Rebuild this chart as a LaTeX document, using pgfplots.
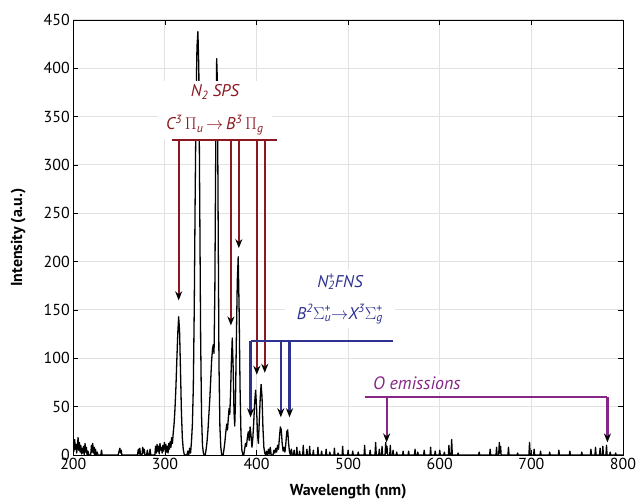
\documentclass[border=0pt]{standalone}
\usepackage{fontspec}
\setmainfont{PT Sans}
\usepackage{pgfplots}
\pgfplotsset{compat=1.18}
\usetikzlibrary{arrows.meta}
\definecolor{sps}{RGB}{139,24,32}
\definecolor{fns}{RGB}{46,49,146}
\definecolor{oem}{RGB}{134,38,134}
\definecolor{gridc}{RGB}{226,226,226}
\tikzset{ann/.style={line width=2.2bp, -{Stealth[black,length=9bp,width=7bp]}}}
\begin{document}
\begin{tikzpicture}
\begin{axis}[scale only axis, width=549.7bp, height=435bp,
  xmin=200, xmax=800, ymin=0, ymax=450,
  xtick={200,300,...,800}, ytick={0,50,...,450},
  tick align=inside, major tick length=5bp,
  grid=major, major grid style={gridc, line width=1bp},
  axis line style={black, line width=0.9bp},
  tick style={black, line width=0.8bp},
  /pgf/number format/assume math mode=true,
  tick label style={font=\fontsize{16}{18}\selectfont},
  label style={font=\fontsize{16}{18}\selectfont\bfseries},
  xlabel={Wavelength (nm)}, ylabel={Intensity (a.u.)},
  xlabel style={at={(axis description cs:0.5,-0.083)}, anchor=center},
  ylabel style={at={(axis description cs:-0.1,0.5)}, anchor=center},
  clip=true]
\addplot[black, line width=1.3bp, line join=round] coordinates {
(200,14)(200.8,4)(201.5,16)(202.2,6)(203,11)(203.7,2)(204.5,9)(205.2,18)(206,5)(206.7,13)
(207.4,3)(208.2,10)(209,1)(209.8,7)(210.5,2)(211.2,9)(212,0)(212.8,12)(213.5,3)(214.3,8)
(215,0)(216,4)(217,0)(219,0)(219.8,10)(220.5,3)(221.2,12)(222,2)(222.8,8)(223.5,-4)
(224.3,6)(225,0)(226,3)(227,0)(230,0)(230.8,5)(231.5,0)
(249,0)(250,4)(250.8,7)(251.6,2)(252.3,5)(253,0)
(270,0)(271,6)(271.8,1)(272.6,7)(273.4,0)(275,0)(275.8,8)(276.6,2)(277.4,6)(278.2,0)
(280,0)(280.8,5)(281.6,0)(283,0)(283.8,6)(284.6,0)
(289,0)(289.8,9)(290.6,2)(291.4,11)(292.2,4)(293,9)(293.8,1)(294.6,12)(295.4,5)(296.2,8)
(297,2)(297.8,10)(298.6,4)(299.4,13)(300.2,6)(301,11)(301.8,3)(302.6,9)(303.4,2)(304.2,12)
(305,6)(305.8,14)(306.6,8)(307.4,18)(308.2,12)(309,22)(310,32)(311,48)(312,70)(313,98)
(314,125)(315,143)(316,128)(317,88)(318,45)(319,18)(320,6)(321,1)(322,0)(324,0)
(325,4)(326,0)(327,7)(328,2)(329,14)(330,32)(331,70)(332,150)(333,265)(334,365)
(335,422)(336,438)(337,400)(338,262)(339,120)(340,40)(341,10)(342,2)(343,0)(344,0)
(345,6)(346,14)(347,26)(348,42)(349,58)(350,78)(351,98)(352,110)(352.8,114)(353.6,105)
(354.5,170)(355.5,320)(356.5,410)(357.3,385)(358,260)(359,95)(360,30)(361,8)(362,0)(363.5,0)
(364.5,6)(365.5,14)(366.5,24)(367.5,32)(368.3,26)(369.2,38)(370,48)(370.8,42)(371.6,62)(372.5,95)
(373.5,121)(374.5,90)(375.4,45)(376.2,30)(377,55)(378,120)(379,180)(380,205)(381,150)(382,70)
(383,22)(384,5)(385,0)(386,0)(387,6)(388,12)(389,9)(390,18)(391,24)(392,15)
(393,29)(394,20)(395,8)(396,18)(397,35)(398,55)(399,67)(400,50)(401,22)(402,12)
(403,35)(404,58)(405,73)(406,60)(407,28)(408,8)(409,2)(410,0)(411,4)(412,0)
(413,6)(414,1)(415,8)(416,0)(418,0)(419,5)(420,2)(421,7)(422,3)(423,10)
(424,6)(425,18)(426,29)(427,26)(428,12)(429,4)(430,8)(431,3)(432,12)(433,24)
(434,26)(435,12)(436,3)(437,0)(438,6)(439,0)
(440.4,0)(441,5)(441.6,0)(443.4,0)(444,8)(444.6,0)(446.4,0)(447,4)(447.6,0)
(450.4,0)(451,10)(451.6,0)(454.4,0)(455,6)(455.6,0)(457.4,0)(458,9)(458.6,0)
(461.4,0)(462,5)(462.6,0)(466.4,0)(467,8)(467.6,0)(470.4,0)(471,4)(471.6,0)
(475.4,0)(476,6)(476.6,0)(479.4,0)(480,3)(480.6,0)(484.4,0)(485,7)(485.6,0)
(488.4,0)(489,2)(489.6,0)(493.4,0)(494,9)(494.6,0)(499.4,0)(500,5)(500.6,0)
(504.4,0)(505,4)(505.6,0)(510.4,0)(511,3)(511.6,0)(517.4,0)(518,10)(518.6,0)
(523.4,0)(524,5)(524.6,0)(529.3,0)(530,13)(530.7,0)(533.4,0)(534,6)(534.6,0)
(536.4,0)(537,9)(537.6,0)(540.3,0)(541,13)(541.7,2)(542.4,9)(543,0)(545.4,0)(546,10)(546.6,0)
(548.4,0)(549,5)(549.6,0)(552.4,0)(553,3)(553.6,0)(559.4,0)(560,4)(560.6,0)
(565.4,0)(566,4)(566.6,0)(572.4,0)(573,6)(573.6,0)(575.4,0)(576,3)(576.6,0)
(582.4,0)(583,5)(583.6,0)(589.4,0)(590,8)(590.6,0)(594.4,0)(595,4)(595.6,0)
(599.4,0)(600,5)(600.6,0)(604.4,0)(605,3)(605.6,0)(609.4,0)(610,10)(610.6,0)
(612.3,0)(613,16)(613.7,0)(619.4,0)(620,2)(620.6,0)(642.4,0)(643,3)(643.6,0)
(654.4,0)(655,6)(655.6,0)(661.4,0)(662,8)(662.6,0)(664.3,0)(665,13)(665.7,2)(666.4,9)(667,0)
(674.4,0)(675,8)(675.6,0)(684.4,0)(685,2)(685.6,0)(697.3,0)(698,13)(698.7,0)
(702.4,0)(703,6)(703.6,0)(709.4,0)(710,4)(710.6,0)(719.4,0)(720,3)(720.6,0)
(729.4,0)(730,5)(730.6,0)(741.4,0)(742,4)(742.6,0)(754.4,0)(755,3)(755.6,0)
(764.4,0)(765,6)(765.6,0)(769.4,0)(770,8)(770.6,0)(774.4,0)(775,7)(775.6,0)
(777.4,0)(778,9)(778.6,0)(781.4,0)(782,10)(782.6,0)(785.4,0)(786,3)(786.6,0)
(791.4,0)(792,2)(792.6,0)(800,0)
};
% N2 second positive system
\node[fill=white, text=sps, align=center, inner xsep=8bp, inner ysep=4bp, font=\fontsize{17}{33}\selectfont\itshape, anchor=south]
  at (axis cs:354.5,327) {N\textsubscript{2} SPS\\ C\textsuperscript{3}\,\upshape$\Pi$\textsubscript{\itshape u}\,$\rightarrow$\,\itshape B\textsuperscript{3}\,\upshape$\Pi$\textsubscript{\itshape g}};
\draw[sps, line width=2.2bp] (axis cs:307.6,326) -- (axis cs:422,326);
\draw[sps, ann] (axis cs:315,326) -- (axis cs:315,160);
\draw[sps, ann] (axis cs:372,326) -- (axis cs:372,134);
\draw[sps, ann] (axis cs:380.7,326) -- (axis cs:380.7,214);
\draw[sps, ann] (axis cs:400.3,326) -- (axis cs:400.3,83);
\draw[sps, ann] (axis cs:409,326) -- (axis cs:409,85);
% N2+ first negative system
\node[fill=white, text=fns, align=center, inner xsep=12bp, inner ysep=4bp, font=\fontsize{17}{32}\selectfont\itshape, anchor=south]
  at (axis cs:491,131) {N\rlap{\textsuperscript{+}}\textsubscript{2}FNS\\ B\textsuperscript{2}\upshape$\Sigma$\rlap{\textsuperscript{+}}\textsubscript{\itshape u}$\rightarrow$\itshape X\textsuperscript{3}\upshape$\Sigma$\rlap{\textsuperscript{+}}\textsubscript{\itshape g}};
\draw[fns, line width=1.6bp] (axis cs:393.5,118) -- (axis cs:548.6,118);
\draw[fns, ann] (axis cs:393.5,118) -- (axis cs:393.5,39);
\draw[fns, ann] (axis cs:426.5,118) -- (axis cs:426.5,39);
\draw[fns, ann] (axis cs:436,118) -- (axis cs:436,39);
% O emissions
\node[fill=white, text=oem, inner sep=2bp, font=\fontsize{18}{20}\selectfont\itshape]
  at (axis cs:575,74) {O emissions};
\draw[oem, line width=2.2bp] (axis cs:518,60) -- (axis cs:783,60);
\draw[oem, ann] (axis cs:542,60) -- (axis cs:542,13);
\draw[oem, ann] (axis cs:783,60) -- (axis cs:783,13);
\end{axis}
\path (current axis.south west) ++(-73.3bp,-49bp) (current axis.north east) ++(17bp,20bp);
\end{tikzpicture}
\end{document}
